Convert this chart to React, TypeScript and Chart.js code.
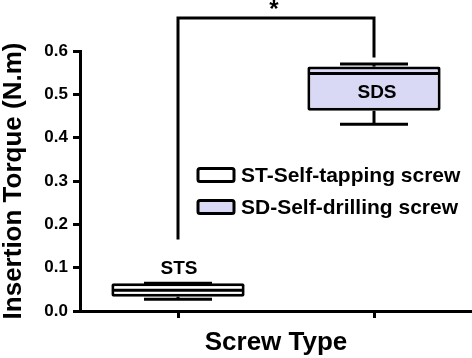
import React, { useEffect, useRef } from 'react';
import { Chart, registerables } from 'chart.js';

Chart.register(...registerables);

const categories = ['STS', 'SDS'];
const legendLabels = ['ST-Self-tapping screw', 'SD-Self-drilling screw'];
const whiskerMin = [0.027, 0.431];
const q1 = [0.033, 0.462];
const median = [0.048, 0.548];
const q3 = [0.064, 0.564];
const whiskerMax = [0.064, 0.570];
const yTicks = [0, 0.1, 0.2, 0.3, 0.4, 0.5, 0.6];
const bracketTop = 0.676;
const bracketFeet = [0.165, 0.585];
const sigLabel = '*';
const fills = ['#ffffff', '#d9d9f6'];
const axisTitleY = 'Insertion Torque (N.m)';
const axisTitleX = 'Screw Type';

const FONT = '"Liberation Sans", Arial, Helvetica, sans-serif';

function seg(ctx: CanvasRenderingContext2D, x1: number, y1: number, x2: number, y2: number) {
  ctx.beginPath();
  ctx.moveTo(x1, y1);
  ctx.lineTo(x2, y2);
  ctx.stroke();
}

const boxPlugin = {
  id: 'boxExtras',
  beforeDatasetsDraw(chart: any) {
    const { ctx, scales } = chart;
    const x = scales.x;
    const y = scales.y;
    ctx.save();
    ctx.strokeStyle = '#000';
    ctx.lineWidth = 3;
    const capHalf = 34;
    categories.forEach((_, i) => {
      const cx = x.getPixelForValue(i);
      const yHi = y.getPixelForValue(whiskerMax[i]);
      const yLo = y.getPixelForValue(whiskerMin[i]);
      seg(ctx, cx, y.getPixelForValue(q3[i]), cx, yHi);
      seg(ctx, cx - capHalf, yHi, cx + capHalf, yHi);
      seg(ctx, cx, y.getPixelForValue(q1[i]), cx, yLo);
      seg(ctx, cx - capHalf, yLo, cx + capHalf, yLo);
    });
    ctx.restore();
  },
  afterDatasetsDraw(chart: any) {
    const { ctx, scales } = chart;
    const x = scales.x;
    const y = scales.y;
    const meta = chart.getDatasetMeta(0);
    ctx.save();
    ctx.strokeStyle = '#000';
    ctx.fillStyle = '#000';
    ctx.lineWidth = 3;
    // medians
    categories.forEach((_, i) => {
      const bar = meta.data[i];
      const cx = x.getPixelForValue(i);
      const hw = bar.width / 2 - 1;
      const ym = y.getPixelForValue(median[i]);
      seg(ctx, cx - hw, ym, cx + hw, ym);
    });
    // box labels
    ctx.font = `bold 19px ${FONT}`;
    ctx.textAlign = 'center';
    ctx.textBaseline = 'middle';
    {
      const cx = x.getPixelForValue(0);
      ctx.fillText(categories[0], cx + 1, y.getPixelForValue(whiskerMax[0]) - 15);
      const cx2 = x.getPixelForValue(1);
      const yc = (y.getPixelForValue(median[1]) + y.getPixelForValue(q1[1])) / 2;
      ctx.fillText(categories[1], cx2 + 3, yc + 1);
    }
    // significance bracket
    const bx1 = x.getPixelForValue(0);
    const bx2 = x.getPixelForValue(1);
    const byTop = y.getPixelForValue(bracketTop);
    ctx.lineJoin = 'miter';
    ctx.beginPath();
    ctx.moveTo(bx1, y.getPixelForValue(bracketFeet[0]));
    ctx.lineTo(bx1, byTop);
    ctx.lineTo(bx2, byTop);
    ctx.lineTo(bx2, y.getPixelForValue(bracketFeet[1]));
    ctx.stroke();
    ctx.font = `bold 24px ${FONT}`;
    ctx.textBaseline = 'top';
    ctx.fillText(sigLabel, (bx1 + bx2) / 2 - 2, byTop - 20);
    // legend
    ctx.font = `bold 21px ${FONT}`;
    ctx.textAlign = 'left';
    ctx.textBaseline = 'middle';
    const lx = 198;
    const rows = [175, 207];
    legendLabels.forEach((lab, i) => {
      const cy = rows[i];
      ctx.beginPath();
      (ctx as any).roundRect(lx, cy - 6.5, 36, 13, 2);
      ctx.fillStyle = fills[i];
      ctx.fill();
      ctx.stroke();
      ctx.fillStyle = '#000';
      ctx.fillText(lab, lx + 43, cy + 1);
    });
    ctx.restore();
  },
};

export default function App() {
  const ref = useRef<HTMLCanvasElement | null>(null);
  useEffect(() => {
    if (!ref.current) return;
    const chart = new Chart(ref.current, {
      type: 'bar',
      data: {
        labels: categories,
        datasets: [
          {
            label: 'Insertion torque',
            data: categories.map((_, i) => [q1[i], q3[i]]) as any,
            backgroundColor: fills,
            borderColor: '#000',
            borderWidth: 3,
            borderSkipped: false,
            borderRadius: 2,
            barPercentage: 0.68,
            categoryPercentage: 1,
          },
        ],
      },
      options: {
        responsive: false,
        animation: false,
        layout: { padding: { top: 51, left: 0, right: 0, bottom: 0 } },
        plugins: { legend: { display: false }, tooltip: { enabled: false } },
        scales: {
          x: {
            offset: true,
            afterFit(s: any) {
              s.height = 47;
            },
            ticks: { display: false },
            grid: { offset: false, drawOnChartArea: false, tickLength: 7, color: '#000', lineWidth: 3 },
            border: { display: true, color: '#000', width: 3 },
            title: {
              display: true,
              text: axisTitleX,
              color: '#000',
              font: { family: FONT, size: 26, weight: 'bold', lineHeight: 1.2 },
              padding: 0,
            },
          },
          y: {
            min: 0,
            max: 0.6,
            afterFit(s: any) {
              s.width = 80;
            },
            afterBuildTicks(s: any) {
              s.ticks = yTicks.map((v) => ({ value: v }));
            },
            ticks: {
              color: '#000',
              padding: 5,
              font: { family: FONT, size: 17, weight: 'bold' },
              callback: (v: any) => Number(v).toFixed(1),
            },
            grid: { drawOnChartArea: false, tickLength: 7, color: '#000', lineWidth: 3 },
            border: { display: true, color: '#000', width: 3 },
            title: {
              display: true,
              text: axisTitleY,
              color: '#000',
              font: { family: FONT, size: 26, weight: 'bold', lineHeight: 1 },
              padding: { top: 1, bottom: 0 },
            },
          },
        },
      },
      plugins: [boxPlugin],
    });
    return () => chart.destroy();
  }, []);
  return (
    <div style={{ position: 'absolute', left: 0, top: 0, width: 472, height: 358, background: '#fff' }}>
      <canvas ref={ref} width={472} height={358} style={{ display: 'block' }} />
    </div>
  );
}
